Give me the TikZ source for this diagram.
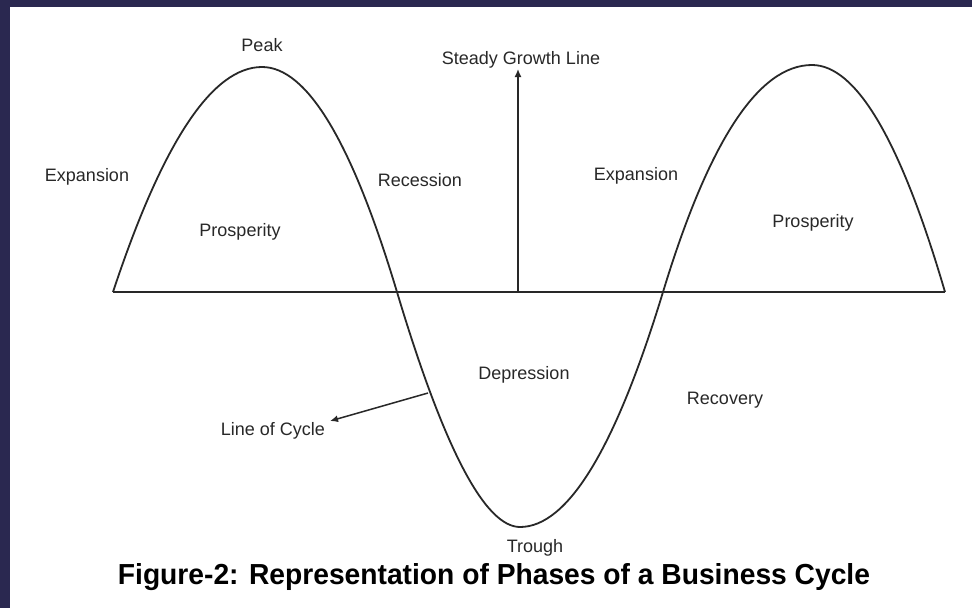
\documentclass[tikz,border=0pt]{standalone}
\usepackage{fontspec}
\setmainfont{Liberation Sans}
\usetikzlibrary{arrows.meta}
\definecolor{navy}{RGB}{42,40,80}
\definecolor{ink}{RGB}{40,40,40}
\tikzset{
  lbl/.style={inner sep=1pt, text=ink, font=\fontsize{18}{22}\selectfont},
  curveline/.style={draw=ink, line width=1.8pt},
  arr/.style={draw=ink, line width=1.5pt, -{Latex[length=8pt,width=7pt]}}
}
\begin{document}
\begin{tikzpicture}[x=1pt,y=-1pt]
\useasboundingbox (0,0) rectangle (972,608);
\fill[navy] (0,0) rectangle (972,608);
\fill[white] (10,7) rectangle (972,608);
% baseline
\coordinate (b0) at (113,292);
\coordinate (b1) at (945,292);
\draw[curveline] (b0) -- (b1);
% cycle curve
\coordinate (pk1) at (262,67);
\coordinate (c1) at (397,292);
\coordinate (tr) at (520,527);
\coordinate (c2) at (663,292);
\coordinate (pk2) at (812,65);
\draw[curveline, line join=round]
 (b0) .. controls (162.7,142) and (212.3,67) .. (pk1)
      .. controls (307,67) and (352,142) .. (c1)
      .. controls (444,448.7) and (485,527) .. (tr)
      .. controls (567.7,527) and (615.3,448.7) .. (c2)
      .. controls (709,140.7) and (758.7,65) .. (pk2)
      .. controls (856.3,65) and (900.7,140.7) .. (b1);
% steady growth line
\coordinate (sg0) at (518,292);
\coordinate (sg1) at (518,69);
\draw[arr] (sg0) -- (sg1);
% line of cycle pointer
\coordinate (lc0) at (428,393);
\coordinate (lc1) at (330,421);
\draw[arr] (lc0) -- (lc1);
% labels
\node[lbl] (peak) at (262,45) {Peak};
\node[lbl] (sgl) at (521,60) {Steady Growth Line};
\node[lbl] (exp1) at (87,177) {Expansion};
\node[lbl] (pros1) at (240,232) {Prosperity};
\node[lbl] (rec) at (420,180) {Recession};
\node[lbl] (exp2) at (636,176) {Expansion};
\node[lbl] (pros2) at (813,223) {Prosperity};
\node[lbl] (dep) at (524,375) {Depression};
\node[lbl] (recov) at (725,400) {Recovery};
\node[lbl] (trough) at (535,548) {Trough};
\node[lbl] (loc) at (273,431) {Line of Cycle};
\node[inner sep=0pt, text=black] (title) at (494,577)
  {\resizebox{752pt}{21pt}{\bfseries Figure-2: Representation of Phases of a Business Cycle}};
\end{tikzpicture}
\end{document}
